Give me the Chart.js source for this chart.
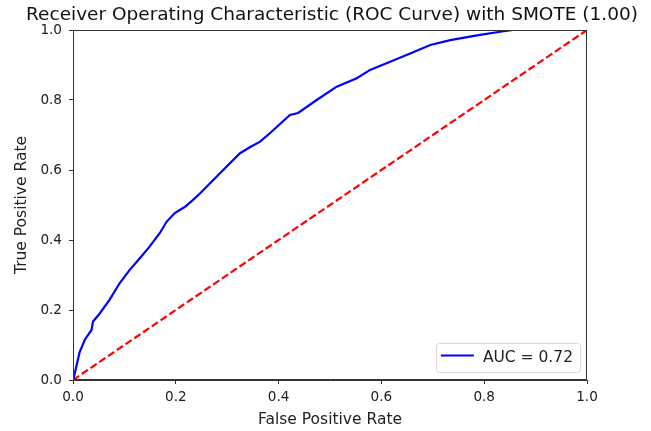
<!DOCTYPE html>
<html>
<head>
<meta charset="utf-8">
<script src="https://cdn.jsdelivr.net/npm/chart.js@4.4.0/dist/chart.umd.min.js"></script>
<style>
html,body{margin:0;padding:0;background:#fff;}
#wrap{width:651px;height:431px;position:relative;}
</style>
</head>
<body>
<div id="wrap"><canvas id="c" width="651" height="431"></canvas></div>
<script>
const chartTitle = "Receiver Operating Characteristic (ROC Curve) with SMOTE (1.00)";
const xLabel = "False Positive Rate";
const yLabel = "True Positive Rate";
const rocLabel = "AUC = 0.72";
const fpr = [0, 0.002, 0.013, 0.023, 0.036, 0.039, 0.052, 0.071, 0.091, 0.11, 0.13, 0.149, 0.169, 0.182, 0.198, 0.218, 0.233, 0.247, 0.286, 0.325, 0.344, 0.364, 0.383, 0.422, 0.438, 0.474, 0.513, 0.552, 0.578, 0.617, 0.656, 0.695, 0.734, 0.753, 0.792, 0.831, 0.856, 1.0];
const tpr = [0, 0.01, 0.08, 0.115, 0.143, 0.167, 0.19, 0.229, 0.277, 0.314, 0.348, 0.381, 0.42, 0.452, 0.477, 0.495, 0.514, 0.533, 0.591, 0.648, 0.665, 0.681, 0.705, 0.757, 0.763, 0.8, 0.838, 0.862, 0.886, 0.909, 0.933, 0.957, 0.971, 0.976, 0.986, 0.995, 1.0, 1.0];
const diagX = [0, 1];
const diagY = [0, 1];

const FONT = "'DejaVu Sans', sans-serif";

const framePlugin = {
  id: 'frame',
  afterDraw(chart) {
    const a = chart.chartArea, ctx = chart.ctx;
    ctx.save();
    ctx.fillStyle = '#111';
    ctx.font = "18.5px " + FONT;
    ctx.textAlign = 'center';
    ctx.textBaseline = 'alphabetic';
    ctx.fillText(chartTitle, (a.left + a.right) / 2 + 2, 19.5);
    ctx.restore();
  },
  afterDatasetsDraw(chart) {
    const a = chart.chartArea, ctx = chart.ctx;
    ctx.save();
    ctx.strokeStyle = '#333';
    ctx.lineWidth = 1;
    ctx.strokeRect(a.left + 0.5, a.top + 0.5, a.right - a.left - 1, a.bottom - a.top - 1);
    const ds = chart.data.datasets[0];
    ctx.font = "15.5px " + FONT;
    const tw = ctx.measureText(ds.label).width;
    const h = 29, lineLen = 33;
    const w = 5 + lineLen + 9 + tw + 7;
    const x = a.right - 7 - w, y = a.bottom - 8 - h;
    ctx.fillStyle = 'rgba(255,255,255,0.85)';
    ctx.strokeStyle = '#d8d8d8';
    ctx.beginPath();
    if (ctx.roundRect) ctx.roundRect(x + 0.5, y + 0.5, w, h, 3); else ctx.rect(x + 0.5, y + 0.5, w, h);
    ctx.fill(); ctx.stroke();
    ctx.strokeStyle = ds.borderColor;
    ctx.lineWidth = ds.borderWidth;
    ctx.beginPath();
    ctx.moveTo(x + 5, y + 12.5);
    ctx.lineTo(x + 5 + lineLen, y + 12.5);
    ctx.stroke();
    ctx.fillStyle = '#222';
    ctx.textBaseline = 'middle';
    ctx.fillText(ds.label, x + 5 + lineLen + 9, y + h / 2 + 0.5);
    ctx.restore();
  }
};

new Chart(document.getElementById('c'), {
  type: 'scatter',
  data: {
    datasets: [
      {
        label: rocLabel,
        data: fpr.map((v, i) => ({x: v, y: tpr[i]})),
        showLine: true,
        borderColor: '#0000ff',
        borderWidth: 2.2,
        pointRadius: 0,
        tension: 0,
        fill: false
      },
      {
        label: 'chance',
        data: diagX.map((v, i) => ({x: v, y: diagY[i]})),
        showLine: true,
        borderColor: '#ff0000',
        borderWidth: 2.2,
        borderDash: [7.4, 3.2],
        pointRadius: 0,
        fill: false
      }
    ]
  },
  options: {
    responsive: false,
    animation: false,
    layout: {padding: {left: 0, right: 64, top: 30, bottom: 0}},
    plugins: {
      legend: {display: false},
      tooltip: {enabled: false},
      title: {display: false}
    },
    scales: {
      x: {
        type: 'linear', min: 0, max: 1,
        afterFit(s) { s.height = 51; },
        grid: {drawOnChartArea: false, drawTicks: true, tickLength: 4, color: '#333'},
        border: {color: '#333'},
        ticks: {stepSize: 0.2, color: '#222', padding: 5, font: {family: FONT, size: 13.6},
          callback: v => Number(v).toFixed(1)},
        title: {display: true, text: xLabel, color: '#222', font: {family: FONT, size: 15.5}, padding: {top: 2, bottom: 2}}
      },
      y: {
        type: 'linear', min: 0, max: 1,
        afterFit(s) { s.width = 73; },
        grid: {drawOnChartArea: false, drawTicks: true, tickLength: 4, color: '#333'},
        border: {color: '#333'},
        ticks: {stepSize: 0.2, color: '#222', padding: 7, font: {family: FONT, size: 13.6},
          callback: v => Number(v).toFixed(1)},
        title: {display: true, text: yLabel, color: '#222', font: {family: FONT, size: 15.5}, padding: {top: 13, bottom: 2}}
      }
    }
  },
  plugins: [framePlugin]
});
</script>
</body>
</html>
